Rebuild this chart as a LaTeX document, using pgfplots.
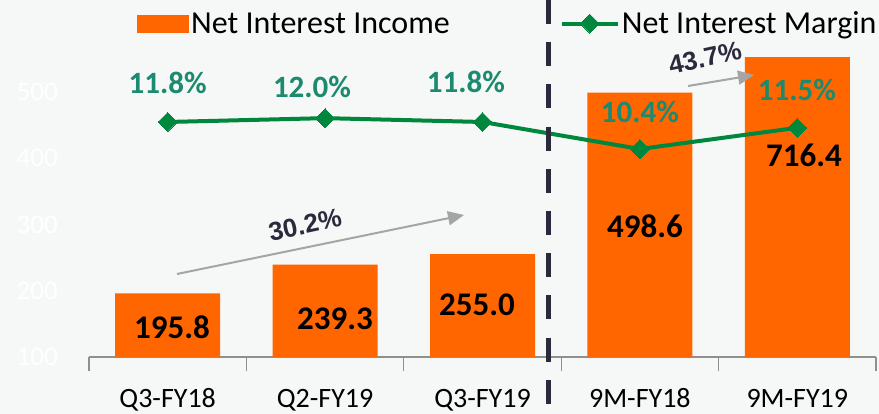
\documentclass[border=0pt]{standalone}
\usepackage{pgfplots}
\pgfplotsset{compat=1.18}
\usepackage{fontspec}
\setmainfont{Carlito}
\newfontfamily\arialfont{Liberation Sans}
\usetikzlibrary{arrows.meta}
\definecolor{bg}{HTML}{F6F7F7}
\definecolor{barorange}{HTML}{FF6600}
\definecolor{linegreen}{HTML}{00873E}
\definecolor{labelteal}{HTML}{1B8A6E}
\definecolor{dashcol}{HTML}{2A2A3C}
\definecolor{arrowgrey}{HTML}{A5A5A5}
\definecolor{axisgrey}{HTML}{8F8F8F}
\begin{document}
\begin{tikzpicture}[x=1pt,y=1pt]
\fill[bg] (0,0) rectangle (879,414);
\begin{axis}[
  at={(89pt,57pt)}, anchor=south west,
  width=787pt, height=299pt, scale only axis,
  xmin=-0.5, xmax=4.5, ymin=100, ymax=551,
  clip mode=individual,
  axis x line*=bottom, axis y line*=left,
  y axis line style={draw=none},
  x axis line style={draw=axisgrey, line width=1.3pt},
  major tick length=0pt,
  xtick={0,1,2,3,4},
  xticklabels={Q3-FY18,Q2-FY19,Q3-FY19,9M-FY18,9M-FY19},
  xticklabel style={anchor=base, inner sep=0pt, yshift=-51pt, font=\fontsize{28}{28}\selectfont, text=black},
  extra x ticks={-0.5,0.5,1.5,2.5,3.5,4.5},
  extra x tick labels={},
  extra x tick style={major tick length=14pt, tick align=outside, tick style={draw=axisgrey, line width=1.3pt}},
  ytick={100,200,300,400,500},
  yticklabel style={anchor=east, inner sep=0pt, xshift=-31pt, font=\fontsize{27}{27}\selectfont, text=white},
  /pgf/number format/assume math mode=true,
  legend style={at={(0.061,1.115)}, anchor=west, draw=none, fill=none, inner sep=0pt,
    font=\fontsize{32}{32}\selectfont},
  legend cell align=left,
  legend image code/.code={\fill[barorange] (0pt,-9pt) rectangle (52pt,9pt);},
]
\addplot[ybar, bar width=105pt, fill=barorange, draw=none]
  coordinates {(0,195.8) (1,239.3) (2,255.0) (3,498.6) (4,716.4)};
\addlegendentry{Net Interest Income}
\begin{scope}[font=\bfseries\fontsize{33}{33}\selectfont, inner sep=0pt]
\node at (axis cs:0.027,145.3) {195.8};
\node at (axis cs:1.063,157.3) {239.3};
\node at (axis cs:1.965,178.4) {255.0};
\node at (axis cs:3.032,297.6) {498.6};
\node at (axis cs:4.043,404.7) {716.4};
\end{scope}
\end{axis}
\begin{axis}[
  at={(89pt,57pt)}, anchor=south west,
  width=787pt, height=299pt, scale only axis,
  xmin=-0.5, xmax=4.5, ymin=-0.376, ymax=15.116,
  hide axis, clip=false,
  legend style={at={(0.598,1.115)}, anchor=west, draw=none, fill=none, inner sep=0pt,
    font=\fontsize{32}{32}\selectfont},
  legend cell align=left,
  legend image code/.code={\draw[mark repeat=2, mark phase=2, #1] plot coordinates {(0pt,0pt) (28pt,0pt) (56pt,0pt)};},
]
\addplot[linegreen, line width=4pt, mark=square*, mark size=6.7pt,
  mark options={rotate=45, fill=linegreen, draw=linegreen, line width=0pt}]
  coordinates {(0,11.8) (1,12.0) (2,11.8) (3,10.4) (4,11.5)};
\addlegendentry{Net Interest Margin}
\begin{scope}[font=\bfseries\fontsize{31}{31}\selectfont, inner sep=0pt, text=labelteal]
\node at (axis cs:0,13.82) {11.8\%};
\node at (axis cs:0.917,13.61) {12.0\%};
\node at (axis cs:1.895,13.87) {11.8\%};
\node at (axis cs:3.0,12.32) {10.4\%};
\node at (axis cs:3.998,13.46) {11.5\%};
\end{scope}
\end{axis}
\draw[dashcol, line width=5pt, dash pattern=on 24pt off 18.2pt] (548,414) -- (548,10);
\draw[arrowgrey, line width=2pt, -{Triangle[length=16pt,width=14pt]}] (177,140) -- (464,199);
\draw[arrowgrey, line width=2pt, -{Triangle[length=16pt,width=14pt]}] (688,328) -- (754,339);
\node[rotate=12, font=\arialfont\bfseries\fontsize{26}{26}\selectfont, text=dashcol, inner sep=0pt] at (305,189) {30.2\%};
\node[rotate=12, font=\arialfont\bfseries\fontsize{26}{26}\selectfont, text=dashcol, inner sep=0pt] at (705,356) {43.7\%};
\pgfresetboundingbox
\useasboundingbox (0,0) rectangle (879,414);
\end{tikzpicture}
\end{document}
